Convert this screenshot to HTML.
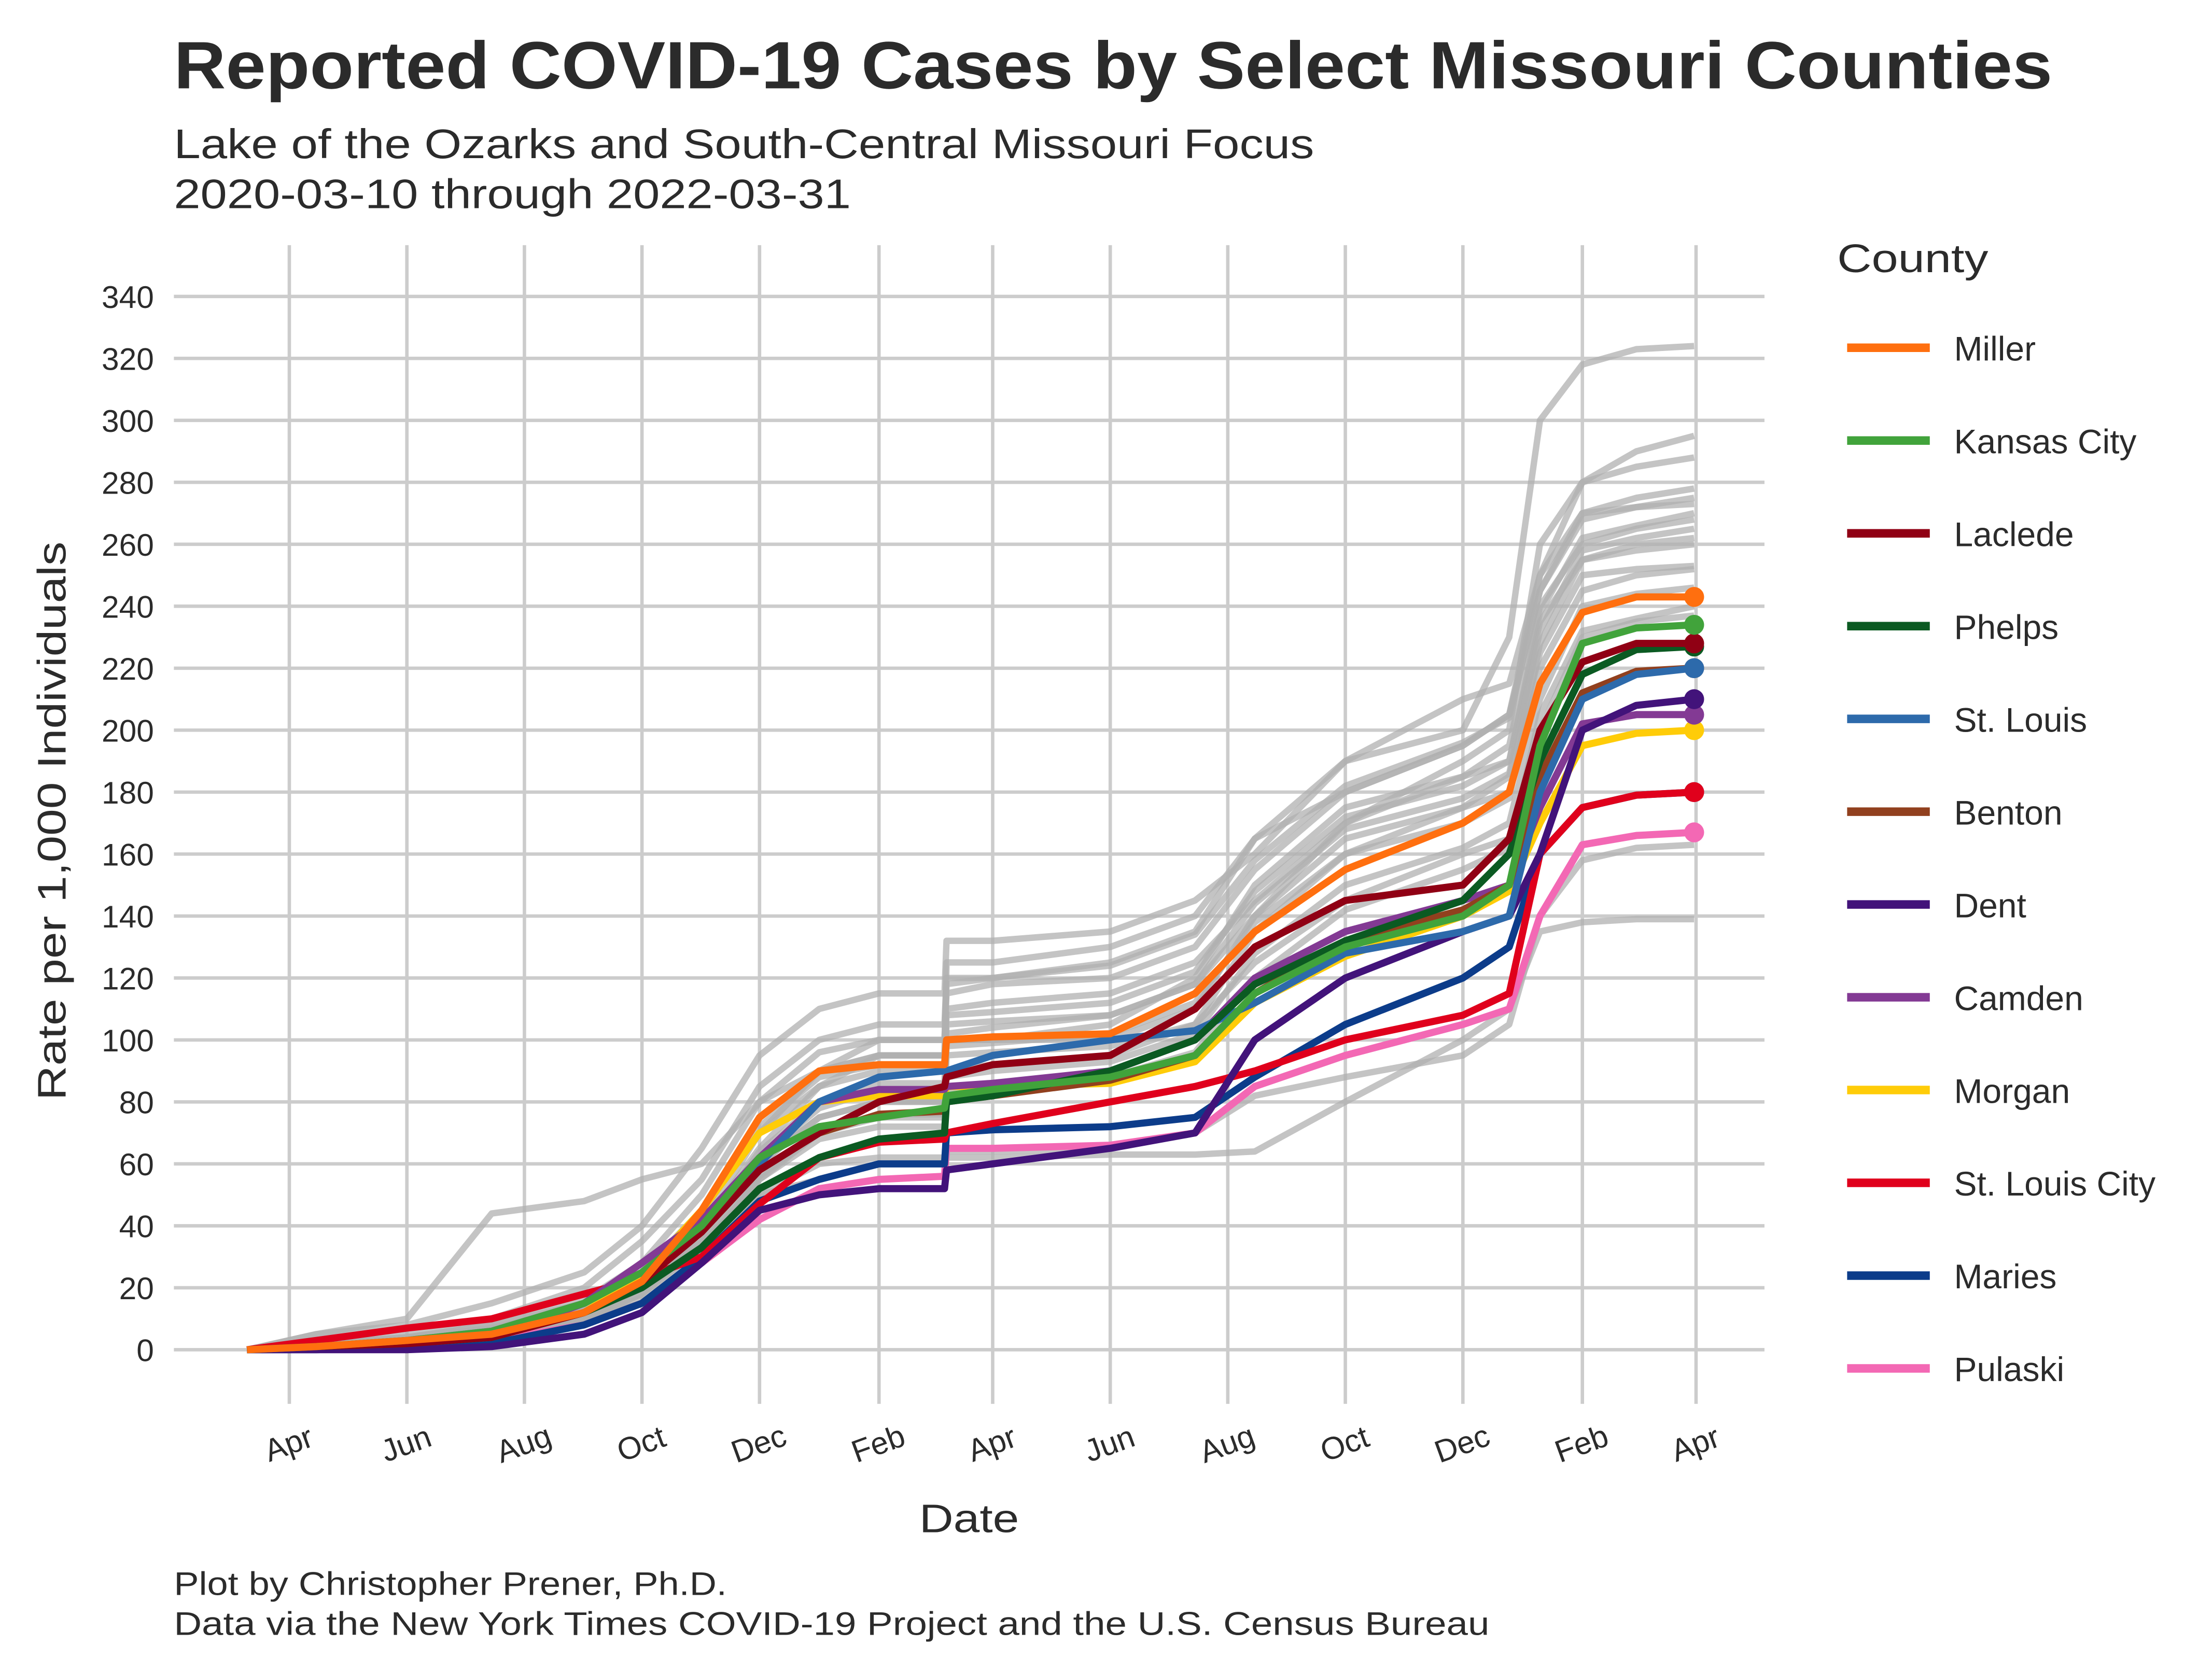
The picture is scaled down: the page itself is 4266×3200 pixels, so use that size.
<!DOCTYPE html>
<html><head><meta charset="utf-8"><style>
html,body{margin:0;padding:0;background:#fff;}
svg{display:block;font-family:"Liberation Sans",Arial,sans-serif;}
</style></head><body>
<svg id="chart" width="4266" height="3200" viewBox="0 0 1552 1164" preserveAspectRatio="none" xmlns="http://www.w3.org/2000/svg">
<rect width="1552" height="1164" fill="#fff"/>
<text x="122" y="62" font-size="47" font-weight="bold" fill="#2b2b2b" textLength="1318" lengthAdjust="spacingAndGlyphs">Reported COVID-19 Cases by Select Missouri Counties</text>
<text x="122" y="111" font-size="29" fill="#2b2b2b" textLength="800" lengthAdjust="spacingAndGlyphs">Lake of the Ozarks and South-Central Missouri Focus</text>
<text x="122" y="146" font-size="29" fill="#2b2b2b" textLength="475" lengthAdjust="spacingAndGlyphs">2020-03-10 through 2022-03-31</text>
<g id="grid"></g>
<g id="gray"></g>
<g id="series"></g>
<g id="yticks"></g>
<g id="xticks"></g>
<text transform="translate(46,576) rotate(-90)" text-anchor="middle" font-size="28" fill="#2b2b2b" textLength="392" lengthAdjust="spacingAndGlyphs">Rate per 1,000 Individuals</text>
<text x="645" y="1075" font-size="28" fill="#2b2b2b" textLength="70" lengthAdjust="spacingAndGlyphs">Date</text>
<text x="1289" y="191" font-size="28" fill="#2b2b2b" textLength="106" lengthAdjust="spacingAndGlyphs">County</text>
<g id="legend"></g>
<text x="122" y="1119" font-size="23" fill="#2b2b2b" textLength="388" lengthAdjust="spacingAndGlyphs">Plot by Christopher Prener, Ph.D.</text>
<text x="122" y="1147" font-size="23" fill="#2b2b2b" textLength="923" lengthAdjust="spacingAndGlyphs">Data via the New York Times COVID-19 Project and the U.S. Census Bureau</text>
</svg>
<script>
const dates = ["2020-03-10","2020-04-15","2020-06-01","2020-07-15","2020-09-01","2020-10-01","2020-11-01","2020-12-01","2021-01-01","2021-02-01","2021-03-07","2021-03-08","2021-04-01","2021-06-01","2021-07-15","2021-08-15","2021-10-01","2021-12-01","2021-12-25","2022-01-10","2022-02-01","2022-03-01","2022-03-31"];
const countyNames = ["Miller","Kansas City","Laclede","Phelps","St. Louis","Benton","Dent","Camden","Morgan","St. Louis City","Maries","Pulaski"];
const countyColors = ["#ff6f0f","#41a33b","#900014","#0b5a22","#2d6aab","#91401e","#42137a","#833a94","#ffcc08","#e0001c","#0c3c8a","#f368b4"];
const miller = [0,1,3,5,12,22,45,75,90,92,92,100,101,102,115,135,155,170,180,215,238,243,243];
const kansasCity = [0,1,3,6,15,25,40,62,72,75,78,82,84,88,95,115,130,140,150,195,228,233,234];
const laclede = [0,1,2,4,12,22,38,58,70,80,85,88,92,95,110,130,145,150,165,200,222,228,228];
const phelps = [0,1,2,4,12,20,33,52,62,68,70,80,82,90,100,118,132,145,160,190,218,226,227];
const stLouis = [0,1,3,6,15,25,40,60,80,88,90,90,95,100,103,112,128,135,140,180,210,218,220];
const benton = [0,1,2,4,12,22,38,58,70,76,77,80,82,87,95,115,132,142,150,185,212,219,220];
const dent = [0,0,0,1,5,12,28,45,50,52,52,58,60,65,70,100,120,135,140,160,200,208,210];
const camden = [0,1,2,4,15,28,42,62,80,84,84,85,86,90,100,120,135,145,150,175,202,205,205];
const morgan = [0,1,2,4,12,24,45,70,80,82,82,85,85,86,93,112,127,140,148,170,195,199,200];
const stLouisCity = [0,3,7,10,18,23,30,47,62,67,68,70,73,80,85,90,100,108,115,160,175,179,180];
const maries = [0,0,1,2,8,15,30,48,55,60,60,70,71,72,75,88,105,120,130,160,175,179,180];
const pulaski = [0,1,2,3,8,15,28,42,52,55,56,65,65,66,70,85,95,105,110,140,163,166,167];
const countySeries = [miller,kansasCity,laclede,phelps,stLouis,benton,dent,camden,morgan,stLouisCity,maries,pulaski];
const gray1 = [0,5,8,15,25,40,65,95,110,115,115,132,132,135,145,160,190,200,230,300,318,323,324];
const gray2 = [0,5,10,44,48,55,60,80,90,95,95,100,100,100,110,140,170,190,200,260,280,290,295];
const gray3 = [0,0,2,5,10,20,35,50,55,60,60,62,62,63,63,64,80,100,110,135,138,139,139];
const gray4 = [0,2,4,8,15,25,40,65,85,95,95,125,125,130,140,165,180,195,205,245,270,275,278];
const gray5 = [0,1,3,6,12,20,35,55,70,75,75,100,100,105,120,150,175,185,195,240,260,265,268];
const gray6 = [0,1,2,5,10,15,30,50,60,62,62,64,64,65,70,82,88,95,105,140,158,162,163];
const gray7 = [0,2,5,10,20,35,55,85,100,105,105,120,120,125,135,165,190,210,215,250,280,285,288];
const gray8 = [0,1,3,6,14,25,45,75,90,95,95,110,112,115,125,145,170,185,190,235,255,258,260];
const gray9 = [0,1,2,4,10,20,40,70,90,100,100,115,118,120,130,155,180,195,205,250,270,272,273];
const gray10 = [0,1,3,6,12,22,40,60,75,80,80,95,96,98,105,125,145,160,165,200,230,235,237];
const gray11 = [0,1,2,5,10,18,35,60,75,80,80,90,92,95,105,135,160,175,185,225,250,252,253];
const gray12 = [0,2,4,7,14,25,45,70,85,90,90,105,106,108,118,140,165,175,180,220,245,250,252];
const gray13 = [0,1,3,6,13,24,44,72,88,92,92,108,109,112,122,148,172,182,190,238,262,266,270];
const gray14 = [0,1,2,5,11,20,38,62,78,84,84,98,99,102,112,138,160,170,178,228,255,260,262];
const gray15 = [0,2,4,8,16,28,50,80,96,100,100,118,120,124,134,158,182,196,204,245,268,272,275];
const gray16 = [0,1,2,4,9,17,32,56,70,76,76,88,90,93,102,128,150,162,170,210,240,244,246];
const gray17 = [0,1,3,6,12,21,38,64,80,86,86,102,104,108,118,144,168,178,186,232,258,262,265];
const gray18 = [0,1,2,5,10,18,33,55,68,72,72,84,85,88,96,120,142,155,162,205,232,236,240];
const graySeries = [gray1,gray2,gray3,gray4,gray5,gray6,gray7,gray8,gray9,gray10,gray11,gray12,gray13,gray14,gray15,gray16,gray17,gray18];
const yTicks = [0,20,40,60,80,100,120,140,160,180,200,220,240,260,280,300,320,340];
const xTickDates = ["2020-04-01","2020-06-01","2020-08-01","2020-10-01","2020-12-01","2021-02-01","2021-04-01","2021-06-01","2021-08-01","2021-10-01","2021-12-01","2022-02-01","2022-04-01"];
const xTickLabels = ["Apr","Jun","Aug","Oct","Dec","Feb","Apr","Jun","Aug","Oct","Dec","Feb","Apr"];

const NS="http://www.w3.org/2000/svg";
const t0=Date.parse("2020-04-01"), t1=Date.parse("2022-04-01");
function xScale(d){return 203+(Date.parse(d)-t0)/(t1-t0)*987;}
function yScale(v){return 947-v*(947-208)/340;}
function mk(tag,attrs,parent){const e=document.createElementNS(NS,tag);for(const k in attrs)e.setAttribute(k,attrs[k]);parent.appendChild(e);return e;}
const grid=document.getElementById('grid');
yTicks.forEach(v=>{const l=mk('line',{x1:122,x2:1238,y1:yScale(v),y2:yScale(v),stroke:'#cccccc','stroke-width':2.4},grid);

});
xTickDates.forEach(d=>{const l=mk('line',{x1:xScale(d),x2:xScale(d),y1:172,y2:985,stroke:'#cccccc','stroke-width':2.4},grid);

});
const yt=document.getElementById('yticks');
yTicks.forEach(v=>{const t=mk('text',{x:108,y:yScale(v)+8,'text-anchor':'end','font-size':22,fill:'#2b2b2b'},yt);t.textContent=v;

});
const xt=document.getElementById('xticks');
xTickDates.forEach((d,i)=>{const x=xScale(d);const t=mk('text',{transform:`translate(${x+2},1020) rotate(-20)`,'text-anchor':'middle','font-size':22,fill:'#2b2b2b'},xt);t.textContent=xTickLabels[i];

});
function pts(arr){return arr.map((v,i)=>xScale(dates[i]).toFixed(1)+','+yScale(v).toFixed(1)).join(' ');}
const gg=document.getElementById('gray');
graySeries.forEach(s=>{const p=mk('polyline',{points:pts(s),fill:'none',stroke:'#b0b0b0','stroke-width':4.5,'stroke-opacity':0.75,'stroke-linejoin':'round'},gg);

});
const sg=document.getElementById('series');
for(let i=countySeries.length-1;i>=0;i--){const s=countySeries[i];
const p=mk('polyline',{points:pts(s),fill:'none',stroke:countyColors[i],'stroke-width':5,'stroke-linejoin':'round'},sg);


const n=s.length-1;const c=mk('circle',{cx:xScale(dates[n]),cy:yScale(s[n]),r:7,fill:countyColors[i]},sg);

}
const lg=document.getElementById('legend');
countyNames.forEach((nm,i)=>{const y=244+65.1*i;
const g=mk('g',{},lg);


mk('line',{x1:1296,x2:1354,y1:y,y2:y,stroke:countyColors[i],'stroke-width':6},g);
const t=mk('text',{x:1371,y:y+9,'font-size':24,fill:'#2b2b2b'},g);t.textContent=nm;});
</script>
</body></html>
